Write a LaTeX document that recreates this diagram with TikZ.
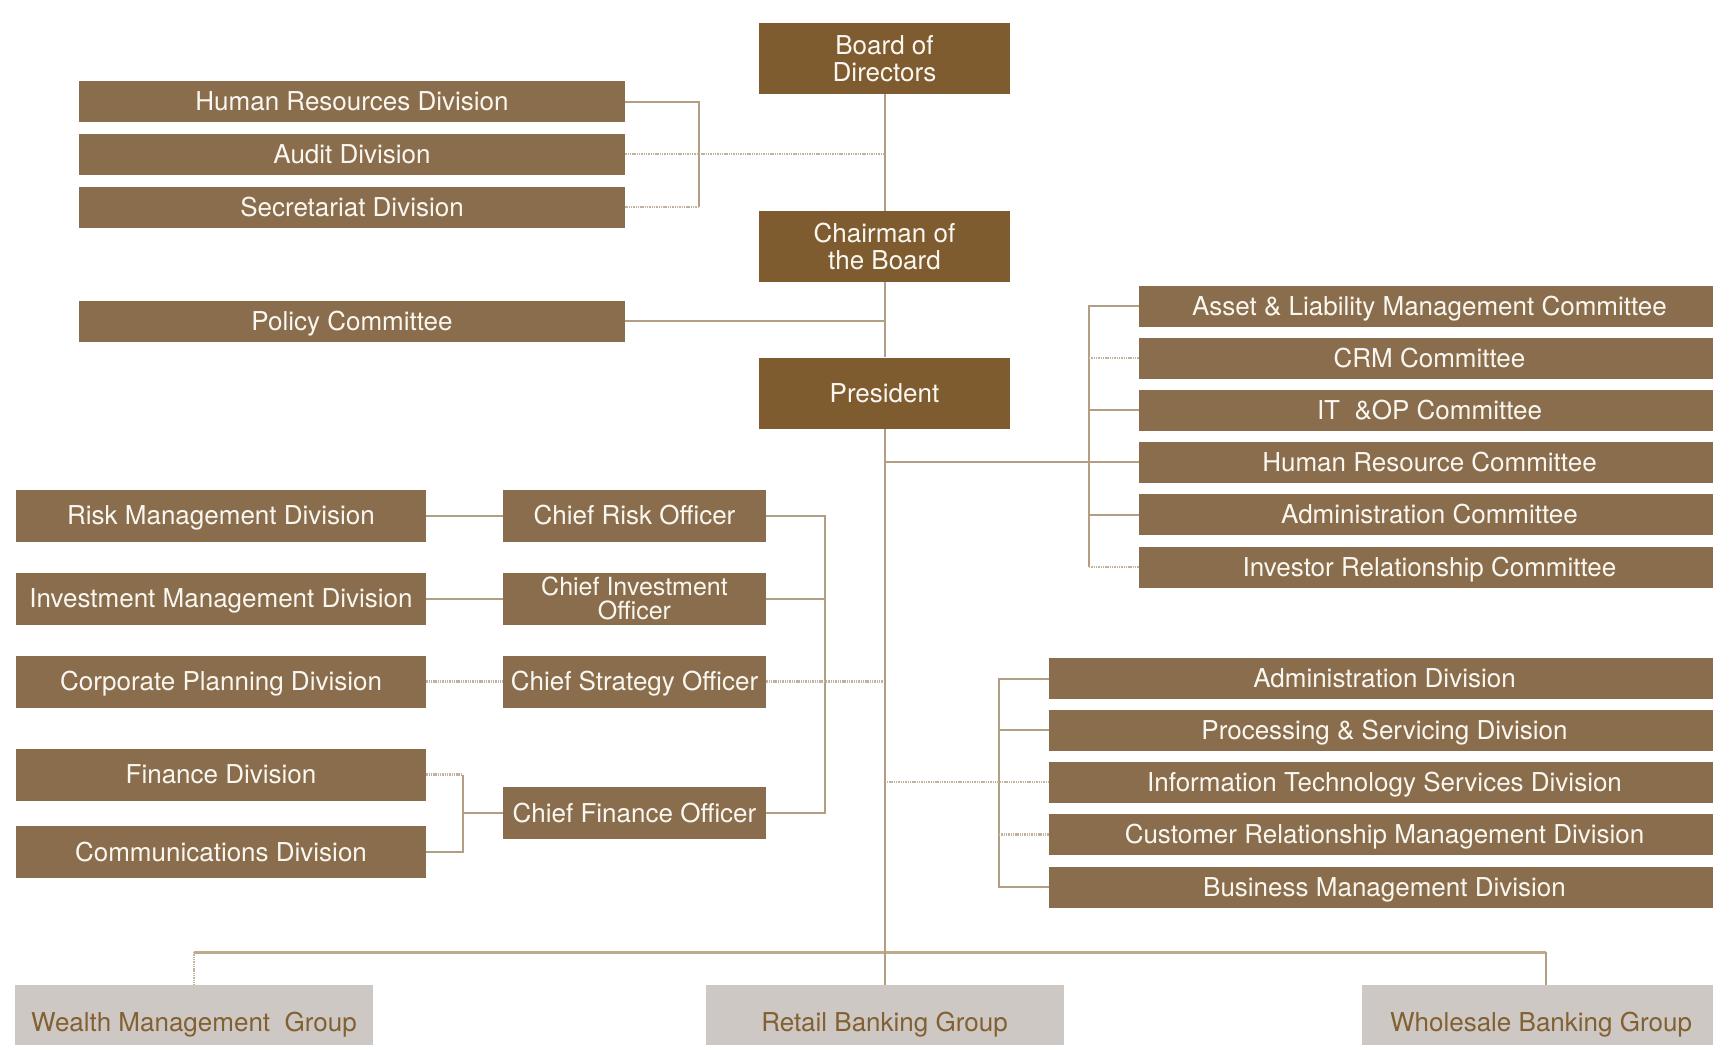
\documentclass[tikz,border=0pt]{standalone}
\usepackage{fontspec}
\setmainfont{TeX Gyre Heros}
\definecolor{topbrown}{RGB}{126,92,48}
\definecolor{divbrown}{RGB}{138,109,76}
\definecolor{grpgray}{RGB}{206,200,197}
\definecolor{grptext}{RGB}{130,96,50}
\definecolor{boxtext}{RGB}{250,247,240}
\definecolor{linecol}{RGB}{178,158,130}
\definecolor{faintcol}{RGB}{192,178,158}
\definecolor{buscol}{RGB}{190,170,140}
\tikzset{
  base/.style={inner sep=0pt, font=\fontsize{26}{27}\selectfont, text=boxtext},
  one/.style={text height=18.7pt, text depth=0pt},
  topbox/.style={base, fill=topbrown, minimum width=251pt, minimum height=71pt, align=center},
  divbox/.style={base, one, fill=divbrown, minimum height=41pt},
  chiefbox/.style={base, fill=divbrown, minimum height=52pt},
  grpbox/.style={base, one, fill=grpgray, text=grptext, minimum width=358pt, minimum height=75pt},
  conn/.style={draw=linecol, line width=2pt},
  faint/.style={draw=faintcol, line width=2.6pt, dash pattern=on 1.4pt off 0.9pt},
  bus/.style={draw=buscol, line width=3pt},
}
\begin{document}
\begin{tikzpicture}[x=1pt,y=-1pt]
\useasboundingbox (0,0) rectangle (1713,1044);
\fill[white] (0,0) rectangle (1713,1044);

% top column
\node[topbox] (board) at (884.5,58.5) {Board of\\Directors};
\node[topbox] (chair) at (884.5,246.5) {Chairman of\\the Board};
\node[topbox, one] (pres) at (884.5,393) {President};

% top-left divisions
\node[divbox, minimum width=546pt] (hrd) at (352,101.5) {Human Resources Division};
\node[divbox, minimum width=546pt] (audit) at (352,154) {Audit Division};
\node[divbox, minimum width=546pt] (sec) at (352,207) {Secretariat Division};
\node[divbox, minimum width=546pt] (policy) at (352,321) {Policy Committee};

% committees
\node[divbox, minimum width=581pt] (alco) at (1429.5,306) {Asset \& Liability Management Committee};
\node[divbox, minimum width=581pt] (crm) at (1429.5,358) {CRM Committee};
\node[divbox, minimum width=581pt] (itop) at (1429.5,410) {IT\ \ \&OP Committee};
\node[divbox, minimum width=581pt] (hrc) at (1429.5,462) {Human Resource Committee};
\node[divbox, minimum width=581pt] (adc) at (1429.5,514.5) {Administration Committee};
\node[divbox, minimum width=581pt] (irc) at (1429.5,567) {Investor Relationship Committee};

% left divisions under chiefs
\node[chiefbox, one, minimum width=410pt] (rmd) at (221,515.5) {Risk Management Division};
\node[chiefbox, one, minimum width=410pt] (imd) at (221,598.5) {Investment Management Division};
\node[chiefbox, one, minimum width=410pt] (cpd) at (221,681.5) {Corporate Planning Division};
\node[chiefbox, one, minimum width=410pt] (fin) at (221,774.5) {Finance Division};
\node[chiefbox, one, minimum width=410pt] (com) at (221,852) {Communications Division};

% chiefs
\node[chiefbox, one, minimum width=263pt] (cro) at (634.5,515.5) {Chief Risk Officer};
\node[chiefbox, minimum width=263pt, align=center, font=\fontsize{25}{24}\selectfont] (cio) at (634.5,598.5) {Chief Investment\\Officer};
\node[chiefbox, one, minimum width=263pt] (cso) at (634.5,681.5) {Chief Strategy Officer};
\node[chiefbox, one, minimum width=263pt] (cfo) at (634.5,813) {Chief Finance Officer};

% right divisions
\node[divbox, minimum width=671pt] (add) at (1384.5,678.5) {Administration Division};
\node[divbox, minimum width=671pt] (psd) at (1384.5,730) {Processing \& Servicing Division};
\node[divbox, minimum width=671pt] (itsd) at (1384.5,782) {Information Technology Services Division};
\node[divbox, minimum width=671pt] (crmd) at (1384.5,834.5) {Customer Relationship Management Division};
\node[divbox, minimum width=671pt] (bmd) at (1384.5,887) {Business Management Division};

% groups
\node[grpbox] (wmg) at (194,1022.5) {Wealth Management\ \ Group};
\node[grpbox] (rbg) at (884.5,1022.5) {Retail Banking Group};
\node[grpbox] (wbg) at (1541,1022.5) {Wholesale Banking Group};

% bracket coordinates
\coordinate (b1) at (699,0);
\coordinate (b2) at (1089,0);
\coordinate (b3) at (825,0);
\coordinate (b4) at (463,0);
\coordinate (b5) at (999,0);
\coordinate (hb) at (0,952);
\coordinate (wbtop) at (1546,985);

% top-left connectors
\draw[conn] (hrd.east) -- (hrd.east -| b1) -- (sec.east -| b1);
\draw[faint] (sec.east -| b1) -- (sec.east);
\draw[faint] (audit.east) -- (audit.east -| board.south);
\draw[conn] (policy.east) -- (policy.east -| board.south);

% committees connectors
\draw[conn] (hrc.west -| pres.south) -- (hrc.west);
\draw[conn] (alco.west) -- (alco.west -| b2) -- (irc.west -| b2);
\draw[faint] (crm.west -| b2) -- (crm.west);
\draw[conn] (itop.west -| b2) -- (itop.west);
\draw[conn] (adc.west -| b2) -- (adc.west);
\draw[faint] (irc.west -| b2) -- (irc.west);

% chiefs connectors
\draw[conn] (rmd.east) -- (cro.west);
\draw[conn] (imd.east) -- (cio.west);
\draw[faint] (cpd.east) -- (cso.west);
\draw[conn] (cro.east) -- (cro.east -| b3) -- (cfo.east -| b3) -- (cfo.east);
\draw[conn] (cio.east) -- (cio.east -| b3);
\draw[faint] (cso.east) -- (cso.east -| pres.south);
\draw[faint] (fin.east) -- (fin.east -| b4);
\draw[conn] (fin.east -| b4) -- (com.east -| b4) -- (com.east);
\draw[conn] (cfo.west -| b4) -- (cfo.west);

% right divisions connectors
\draw[conn] (add.west) -- (add.west -| b5) -- (bmd.west -| b5) -- (bmd.west);
\draw[conn] (psd.west -| b5) -- (psd.west);
\draw[faint] (itsd.west -| pres.south) -- (itsd.west);
\draw[faint] (crmd.west -| b5) -- (crmd.west);

% groups connectors
\draw[bus] (wmg.north |- hb) -- (wbtop |- hb);
\draw[faint] (wmg.north |- hb) -- (wmg.north);
\draw[conn] (wbtop |- hb) -- (wbtop);

% spine
\draw[conn] (board.south) -- (chair.north);
\draw[conn] (chair.south) -- (pres.north);
\draw[conn] (pres.south) -- (rbg.north);
\end{tikzpicture}
\end{document}
